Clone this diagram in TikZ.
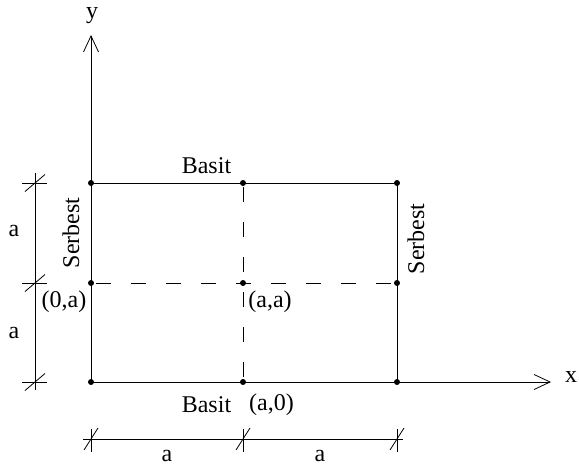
\documentclass[tikz,border=0pt]{standalone}
\usepackage{fontspec}
\setmainfont{Liberation Serif}
\usetikzlibrary{arrows.meta}
\begin{document}
\begin{tikzpicture}[x=1pt,y=-1pt,
  line width=0.9pt,
  dot/.style={circle,fill=black,inner sep=0pt,minimum size=6pt},
  lbl/.style={inner sep=0pt,font=\fontsize{24}{28}\selectfont},
  axisarrow/.style={-{Straight Barb[length=16pt,width=15pt,line width=0.8pt]}},
  dashline/.style={dash pattern=on 15pt off 20pt},
  dimline/.style={line width=0.8pt}]
\useasboundingbox (0,0) rectangle (579,466);
% grid points
\node[dot] (p00) at (91,382) {};
\node[dot] (p10) at (243,382) {};
\node[dot] (p20) at (397,382) {};
\node[dot] (p01) at (91,283) {};
\node[dot] (p11) at (243,283) {};
\node[dot] (p21) at (397,283) {};
\node[dot] (p02) at (91,183) {};
\node[dot] (p12) at (243,183) {};
\node[dot] (p22) at (397,183) {};
\coordinate (ytip) at (91,35);
\coordinate (xtip) at (551,382);
% axes
\draw[axisarrow] (p00.center) -- (ytip);
\draw[axisarrow] (p00.center) -- (xtip);
% rectangle
\draw (p02.center) -- (p22.center) -- (p20.center);
% dashed
\draw[dashline,dash phase=30pt] (p01.center) -- (p21.center);
\draw[dashline,dash phase=30pt] (p10.center) -- (p12.center);
% left dimension
\coordinate (lt) at (35,173);
\coordinate (lb) at (35,390);
\draw[dimline] (lt) -- (lb);
\foreach \yy in {183,283,382}{
  \draw[dimline] (22,\yy) -- (47,\yy);
  \draw[dimline] (25,\yy+8.5) -- (45,\yy-8.5);
}
% bottom dimension
\coordinate (bl) at (83,439);
\coordinate (br) at (403,439);
\draw[dimline] (bl) -- (br);
\foreach \xx in {91,243,397}{
  \draw[dimline] (\xx,429) -- (\xx,452);
  \draw[dimline] (\xx-7,450) -- (\xx+7,428);
}
% labels
\node[lbl] (ly) at (92,16) {y};
\node[lbl] (lx) at (571,377) {x};
\node[lbl] (basitT) at (206.5,166) {Basit};
\node[lbl] (basitB) at (206.5,405) {Basit};
\node[lbl] (a0) at (271.5,405) {(a,0)};
\node[lbl] (0a) at (64,302) {(0,a)};
\node[lbl] (aa) at (270,302) {(a,a)};
\node[lbl,rotate=90] (serL) at (71,233) {Serbest};
\node[lbl,rotate=90] (serR) at (416,239) {Serbest};
\node[lbl] (da1) at (14,231) {a};
\node[lbl] (da2) at (14,333) {a};
\node[lbl] (da3) at (167,456) {a};
\node[lbl] (da4) at (320,456) {a};
\end{tikzpicture}
\end{document}
